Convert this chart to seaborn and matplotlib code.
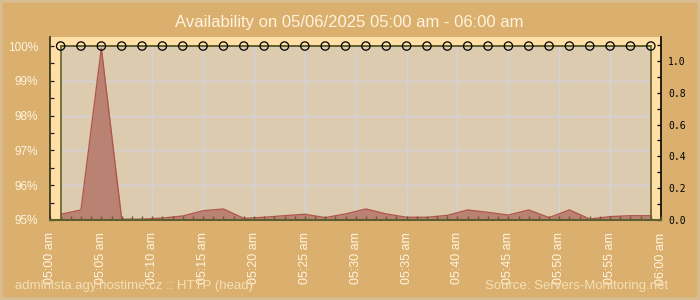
import matplotlib
matplotlib.use("Agg")
import matplotlib.pyplot as plt
import seaborn as sns
import pandas as pd
import numpy as np
from matplotlib.patches import Rectangle

# ---------------- data ----------------
times = ["05:01", "05:03", "05:05", "05:07", "05:09", "05:11", "05:13", "05:15",
         "05:17", "05:19", "05:21", "05:23", "05:25", "05:27", "05:29", "05:31",
         "05:33", "05:35", "05:37", "05:39", "05:41", "05:43", "05:45", "05:47",
         "05:49", "05:51", "05:53", "05:55", "05:57", "05:59"]
availability = [100, 100, 100, 100, 100, 100, 100, 100, 100, 100,
                100, 100, 100, 100, 100, 100, 100, 100, 100, 100,
                100, 100, 100, 100, 100, 100, 100, 100, 100, 100]
response = [0.036, 0.063, 1.08, 0.005, 0.005, 0.012, 0.025, 0.058, 0.069, 0.010,
            0.017, 0.027, 0.036, 0.015, 0.038, 0.069, 0.038, 0.017, 0.017, 0.029,
            0.063, 0.048, 0.031, 0.063, 0.015, 0.063, 0.006, 0.021, 0.027, 0.027]
x_tick_labels = ["05:00 am", "05:05 am", "05:10 am", "05:15 am", "05:20 am",
                 "05:25 am", "05:30 am", "05:35 am", "05:40 am", "05:45 am",
                 "05:50 am", "05:55 am", "06:00 am"]
left_tick_labels = ["95%", "96%", "97%", "98%", "99%", "100%"]
right_tick_labels = ["0.0", "0.2", "0.4", "0.6", "0.8", "1.0"]
title = "Availability on 05/06/2025 05:00 am - 06:00 am"
footer_left = "administa.agy.hostime.cz :: HTTP (head)"
footer_right = "Source: Servers-Monitoring.net"


def to_minutes(t):
    h, m = t.split(":")
    return (int(h) - 5) * 60 + int(m)


df = pd.DataFrame({
    "minute": [to_minutes(t) for t in times],
    "availability": availability,
    "response": response,
})

# ---------------- style ----------------
sns.set_theme(style="white")
plt.rcParams['font.family'] = ['Liberation Sans', 'DejaVu Sans']

BG = "#dbb06e"
STRIP = "#ffdfa6"
INNER = "#ddcbb0"
OLIVE = "#5f5f2e"
GRID = "#d2d3da"
CREAM = "#fff3de"

fig = plt.figure(figsize=(7, 3), dpi=100, facecolor=BG)
fig.patches.append(Rectangle((0, 0), 1, 1, transform=fig.transFigure,
                             facecolor="none", edgecolor="#d8bc92", lw=4))

ax = fig.add_axes([0.0721, 0.2667, 0.8722, 0.61])
ax2 = ax.twinx()

ax.set_xlim(0, 60)
ax.set_ylim(95, 100.26)
ax2.set_ylim(0, 1.151)

# ax2 is drawn below ax
ax.set_zorder(2)
ax2.set_zorder(1)
ax.patch.set_visible(False)
ax2.patch.set_visible(True)
ax2.patch.set_facecolor(STRIP)

x0, x1 = df["minute"].min(), df["minute"].max()

# inner plotting frame (drawn on ax2 using left-axis coordinates)
ax2.add_patch(Rectangle((x0, 95), x1 - x0, 5, transform=ax.transData,
                        facecolor=INNER, edgecolor="none", zorder=0))
for v in np.arange(5, 60, 5):
    ax2.plot([v, v], [95, 100], transform=ax.transData, color=GRID, lw=1, zorder=0.5)
for h in [96, 97, 98, 99]:
    ax2.plot([x0, x1], [h, h], transform=ax.transData, color=GRID, lw=1, zorder=0.5)

# response area on right axis
ax2.fill_between(df["minute"], 0, df["response"], color="#b97e70", alpha=0.95,
                 lw=0, zorder=2)
sns.lineplot(data=df, x="minute", y="response", ax=ax2, color="#b0584f",
             lw=1, zorder=3, legend=False)

# frame outline and availability markers on top
ax.add_patch(Rectangle((x0, 95), x1 - x0, 5, facecolor="none",
                       edgecolor=OLIVE, lw=1.2, zorder=3))
sns.lineplot(data=df, x="minute", y="availability", ax=ax, color=OLIVE,
             lw=1.2, zorder=4, legend=False)
sns.scatterplot(data=df, x="minute", y="availability", ax=ax, marker="o",
                s=36, facecolor="none", edgecolor="black", linewidth=0.9,
                zorder=5, legend=False)

# ---------------- axes / ticks ----------------
ax.set_xlabel("")
ax.set_ylabel("")
ax2.set_xlabel("")
ax2.set_ylabel("")

ax.set_xticks(np.arange(0, 61, 5))
ax.set_xticklabels(x_tick_labels, rotation=90, color=CREAM, fontsize=9,
                   va="top", ha="center")
ax.set_xticks(np.arange(1, 60, 1), minor=True)
ax.tick_params(axis="x", which="both", direction="in", length=3, width=1,
               color=OLIVE, pad=9, bottom=True, top=False)

ax.set_yticks([95, 96, 97, 98, 99, 100])
ax.set_yticklabels(left_tick_labels, color=CREAM, fontsize=8.5)
ax.set_yticks(np.arange(95.5, 100, 1.0), minor=True)
ax.tick_params(axis="y", which="both", direction="in", length=3, width=0.9,
               color="#222222", pad=9, left=True, right=False)

ax2.set_yticks([0, 0.2, 0.4, 0.6, 0.8, 1.0])
ax2.set_yticklabels(right_tick_labels, fontsize=7, color="black",
                    family="DejaVu Sans Mono")
ax2.set_yticks(np.arange(0.1, 1.15, 0.2), minor=True)
ax2.tick_params(axis="y", which="both", direction="in", length=3, width=0.9,
                color="black", pad=5, right=True, left=False)
ax2.tick_params(axis="x", which="both", bottom=False, top=False,
                labelbottom=False)

for s in ["top", "right"]:
    ax.spines[s].set_visible(False)
ax.spines["left"].set_color("#2e2e18")
ax.spines["left"].set_linewidth(1.2)
ax.spines["bottom"].set_color(OLIVE)
ax.spines["bottom"].set_linewidth(1.5)
for s in ["top", "left", "bottom"]:
    ax2.spines[s].set_visible(False)
ax2.spines["right"].set_color("black")
ax2.spines["right"].set_linewidth(1.2)

ax.grid(False)
ax2.grid(False)

# ---------------- text ----------------
fig.text(0.499, 0.925, title, ha="center", va="center", fontsize=12,
         color=CREAM)
fig.text(0.021, 0.047, footer_left, ha="left", va="center", fontsize=9.5,
         color="#f3dfb8")
fig.text(0.954, 0.047, footer_right, ha="right", va="center", fontsize=9.5,
         color="#f3dfb8")

fig.savefig("out.png", dpi=100, facecolor=BG)
